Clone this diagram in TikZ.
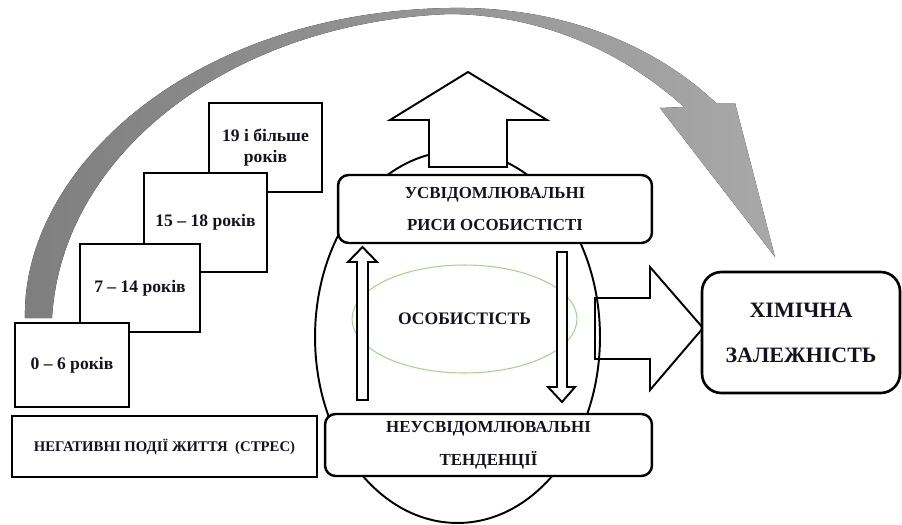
\documentclass[tikz,border=0pt]{standalone}
\usepackage{fontspec}
\setmainfont{Liberation Serif}
\usetikzlibrary{shapes.geometric}
\definecolor{ink}{HTML}{14121E}
\definecolor{arcdark}{HTML}{7F7F7F}
\definecolor{arclight}{HTML}{A8A8A8}
\definecolor{leaf}{HTML}{A9D18E}

\begin{document}
\begin{tikzpicture}[
  x=0.02cm, y=-0.02cm,
  age/.style   ={draw=black, line width=1.6pt, fill=white, text=ink, align=center,
                 inner sep=0pt, font=\fontsize{10}{12}\selectfont\bfseries},
  trait/.style ={rounded corners=6pt, draw=black, line width=1.4pt, fill=white,
                 text=ink, align=center, inner sep=0pt,
                 font=\fontsize{9.6}{18.5}\selectfont\bfseries},
  goal/.style  ={rounded corners=11pt, draw=black, line width=1.5pt, fill=white,
                 text=ink, align=center, inner sep=0pt,
                 font=\fontsize{12.5}{25.5}\selectfont\bfseries},
  blockarrow/.style={draw=black, line width=1.1pt, fill=white, line join=miter},
]
  \useasboundingbox (0,0) rectangle (902,524);

  % --- great grey arc ---
  \fill[left color=arcdark, right color=arclight]
    (25,318) .. controls (22,170) and (190,12) .. (450,8)
             .. controls (570,6) and (660,50) .. (716,103)
    -- (735,103) -- (775,257) -- (660,108) -- (684,107)
             .. controls (630,58) and (550,15) .. (450,14)
             .. controls (235,22) and (62,150) .. (52,318) -- cycle;

  % --- personality core ---
  \draw[blockarrow] (595,298) -- (650,298) -- (650,267) -- (703,328)
    -- (650,390) -- (650,359) -- (595,359) -- cycle;
  \node[ellipse, draw=black, line width=1.1pt, minimum width=5.7cm,
        minimum height=7.44cm, inner sep=0pt] (core) at (457.5,337) {};
  \draw[blockarrow] (429,167) -- (429,120) -- (390,120) -- (468,72)
    -- (547,120) -- (507,120) -- (507,167) -- cycle;
  \node[ellipse, draw=leaf, line width=0.6pt, minimum width=4.5cm,
        minimum height=2.16cm, inner sep=0pt, text=ink,
        font=\fontsize{10}{12}\selectfont\bfseries] (self) at (464.5,319) {ОСОБИСТІСТЬ};

  \node[trait, minimum width=6.28cm, minimum height=1.36cm] (consc) at (495,209)
    {УСВІДОМЛЮВАЛЬНІ\\РИСИ ОСОБИСТІСТІ};
  \node[trait, minimum width=6.54cm, minimum height=1.24cm] (uncons) at (488.5,445)
    {НЕУСВІДОМЛЮВАЛЬНІ\\ТЕНДЕНЦІЇ};

  % --- inner arrows ---
  \draw[blockarrow] (357,400) -- (357,262) -- (348,262) -- (362.5,247)
    -- (377,262) -- (368,262) -- (368,400) -- cycle;
  \draw[blockarrow] (557,252) -- (557,387) -- (548,387) -- (562,402)
    -- (575,387) -- (567,387) -- (567,252) -- cycle;

  \node[goal, minimum width=3.96cm, minimum height=2.42cm] (chem) at (801,332.5)
    {ХІМІЧНА\\ЗАЛЕЖНІСТЬ};

  % --- age steps ---
  \node[age, minimum width=2.26cm, minimum height=1.78cm] (a19) at (265.5,147.5) {19 і більше\\років};
  \node[age, minimum width=2.46cm, minimum height=1.98cm] (a15) at (205.5,222.5) {15 – 18 років};
  \node[age, minimum width=2.40cm, minimum height=1.76cm] (a7)  at (140,288) {7 – 14 років};
  \node[age, minimum width=2.28cm, minimum height=1.68cm] (a0)  at (72,365) {0 – 6 років};
  \node[age, minimum width=6.10cm, minimum height=1.22cm,
        font=\fontsize{8.4}{10}\selectfont\bfseries] (stress) at (164.5,446.5)
    {НЕГАТИВНІ ПОДІЇ ЖИТТЯ\ \ (СТРЕС)};
\end{tikzpicture}
\end{document}
